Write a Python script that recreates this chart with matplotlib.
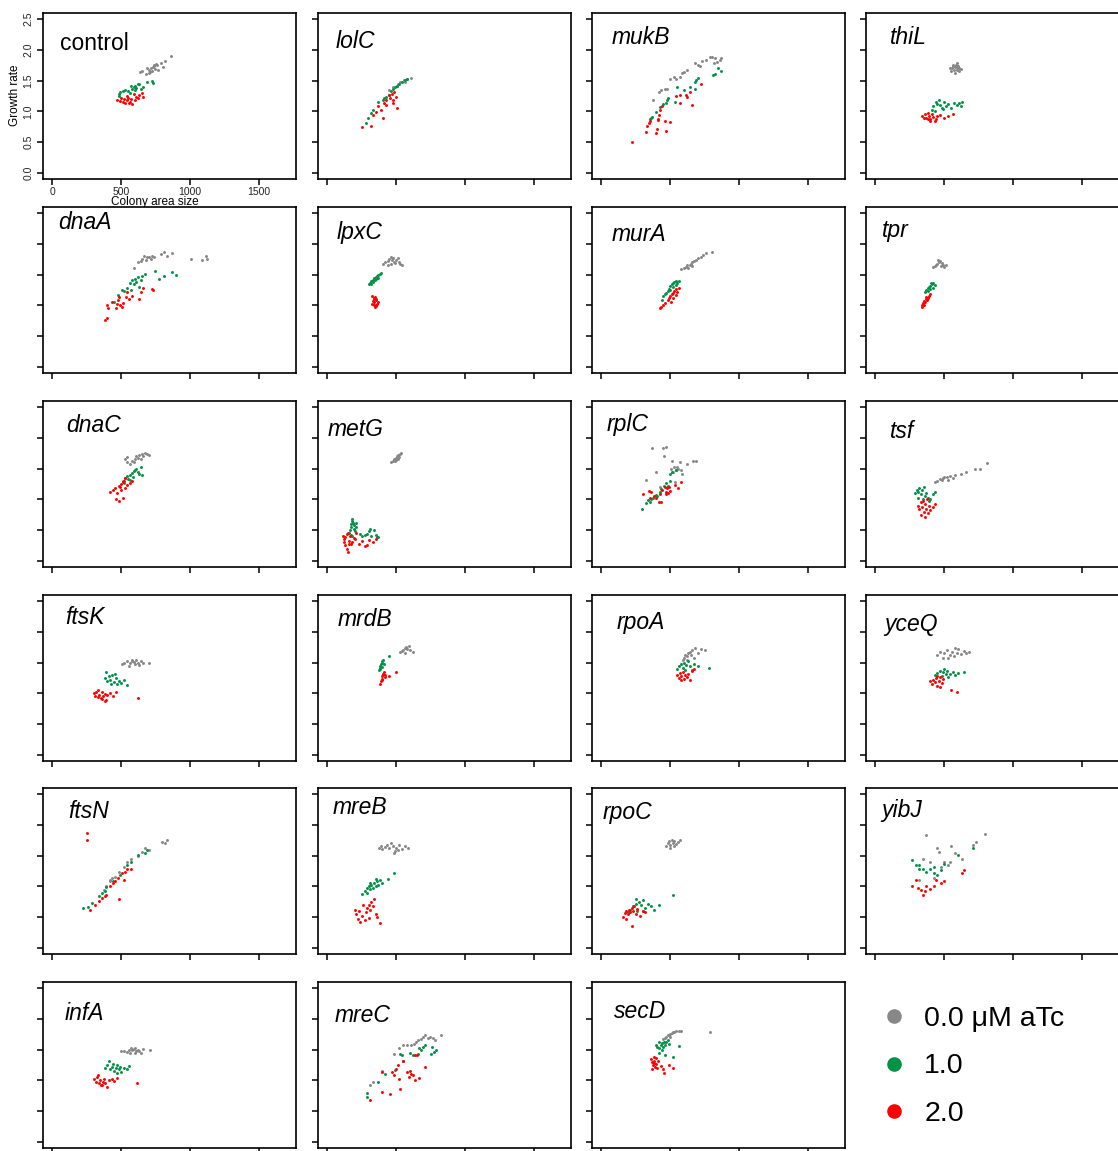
import matplotlib
matplotlib.use("Agg")
import matplotlib.pyplot as plt
from matplotlib.lines import Line2D

plt.rcParams["font.family"] = ["Liberation Sans", "DejaVu Sans"]

# Panel order (row by row)
genes = ["control", "lolC", "mukB", "thiL",
         "dnaA", "lpxC", "murA", "tpr",
         "dnaC", "metG", "rplC", "tsf",
         "ftsK", "mrdB", "rpoA", "yceQ",
         "ftsN", "mreB", "rpoC", "yibJ",
         "infA", "mreC", "secD"]

doses = ["0.0 \u03bcM aTc", "1.0", "2.0"]
dose_colors = ["#878787", "#009245", "#FF0000"]

x_ticks = [0, 500, 1000, 1500]
y_ticks = [0.0, 0.5, 1.0, 1.5, 2.0, 2.5]

# (colony area size, growth rate) per colony, for each strain and aTc dose
control_atc0 = [(633, 1.64), (650, 1.66), (680, 1.60), (700, 1.68), (715, 1.70), (730, 1.72), (740, 1.73),
                (745, 1.69), (760, 1.75), (770, 1.68), (790, 1.78), (800, 1.72), (820, 1.82), (860, 1.90),
                (720, 1.66), (700, 1.62), (690, 1.71), (755, 1.77), (735, 1.76), (710, 1.64)]
control_atc1 = [(480, 1.28), (490, 1.32), (510, 1.33), (530, 1.34), (560, 1.30), (580, 1.36), (590, 1.40),
                (600, 1.42), (610, 1.38), (620, 1.44), (640, 1.37), (660, 1.40), (690, 1.47), (720, 1.49),
                (730, 1.46), (600, 1.35), (570, 1.41), (630, 1.45), (480, 1.25), (550, 1.33)]
control_atc2 = [(470, 1.18), (490, 1.17), (510, 1.15), (520, 1.20), (530, 1.13), (540, 1.18), (550, 1.22),
                (560, 1.16), (570, 1.20), (580, 1.12), (600, 1.19), (610, 1.24), (630, 1.27), (650, 1.30),
                (660, 1.24), (540, 1.25), (555, 1.14), (500, 1.21), (590, 1.28), (620, 1.22)]

lolC_atc0 = [(447, 1.35), (477, 1.39), (504, 1.42), (530, 1.47), (553, 1.51), (580, 1.53), (606, 1.55),
             (561, 1.48), (515, 1.44)]
lolC_atc1 = [(277, 0.81), (295, 0.89), (333, 1.02), (371, 1.16), (402, 1.19), (428, 1.23), (447, 1.26),
             (477, 1.37), (504, 1.41), (523, 1.45), (542, 1.48), (561, 1.51), (580, 1.53), (492, 1.39),
             (409, 1.21), (318, 0.97), (462, 1.33)]
lolC_atc2 = [(250, 0.74), (314, 0.77), (333, 0.94), (371, 1.08), (402, 0.89), (409, 1.13), (428, 1.18),
             (447, 1.26), (466, 1.29), (485, 1.32), (496, 1.24), (504, 1.05), (477, 1.13), (455, 1.21),
             (390, 1.02), (428, 1.10), (352, 0.99), (473, 1.18)]

mukB_atc0 = [(375, 1.18), (419, 1.32), (436, 1.34), (460, 1.36), (477, 1.37), (501, 1.52), (527, 1.56),
             (544, 1.53), (569, 1.56), (588, 1.63), (597, 1.64), (622, 1.67), (680, 1.78), (701, 1.75),
             (714, 1.74), (733, 1.82), (762, 1.83), (786, 1.88), (806, 1.89), (823, 1.86), (842, 1.80),
             (859, 1.84), (871, 1.86), (815, 1.78)]
mukB_atc1 = [(351, 0.87), (363, 0.90), (394, 0.99), (423, 1.07), (448, 1.12), (467, 1.14), (484, 1.21),
             (532, 1.15), (549, 1.40), (598, 1.34), (646, 1.39), (677, 1.36), (689, 1.51), (701, 1.54),
             (677, 1.48), (811, 1.59), (823, 1.60), (847, 1.71), (871, 1.65), (477, 1.19), (370, 0.91)]
mukB_atc2 = [(225, 0.50), (322, 0.67), (334, 0.76), (346, 0.81), (356, 0.85), (394, 0.65), (404, 0.72),
             (414, 0.88), (419, 0.94), (428, 1.03), (438, 1.08), (467, 0.68), (462, 0.85), (496, 0.83),
             (540, 1.25), (569, 1.13), (573, 1.27), (612, 1.26), (622, 1.24), (641, 1.32), (660, 1.11),
             (721, 1.44), (411, 0.86)]

thiL_atc0 = [(540, 1.70), (550, 1.66), (560, 1.73), (570, 1.68), (575, 1.72), (585, 1.75), (590, 1.67),
             (595, 1.70), (600, 1.74), (610, 1.71), (620, 1.69), (580, 1.63), (565, 1.76), (555, 1.71),
             (605, 1.65), (590, 1.78)]
thiL_atc1 = [(410, 1.02), (420, 1.08), (440, 1.15), (450, 1.12), (470, 1.10), (480, 1.05), (500, 1.16),
             (510, 1.08), (530, 1.12), (550, 1.06), (570, 1.13), (590, 1.10), (610, 1.14), (630, 1.16),
             (620, 1.08), (460, 1.18), (430, 1.00), (490, 1.04)]
thiL_atc2 = [(340, 0.92), (350, 0.89), (360, 0.95), (370, 0.90), (380, 0.87), (390, 0.93), (400, 0.88),
             (410, 0.96), (420, 0.91), (430, 0.85), (450, 0.92), (470, 0.94), (500, 0.90), (530, 0.93),
             (560, 0.96), (380, 0.97), (400, 0.84), (440, 0.88)]

dnaA_atc0 = [(593, 1.61), (624, 1.70), (641, 1.72), (653, 1.75), (668, 1.81), (678, 1.73), (702, 1.78),
             (714, 1.76), (726, 1.81), (738, 1.78), (786, 1.84), (810, 1.86), (835, 1.81), (866, 1.85),
             (1004, 1.75), (1084, 1.74), (1113, 1.80), (1120, 1.76), (690, 1.79)]
dnaA_atc1 = [(448, 1.05), (477, 1.17), (503, 1.25), (520, 1.24), (544, 1.29), (561, 1.36), (581, 1.41),
             (600, 1.43), (610, 1.38), (624, 1.46), (641, 1.42), (653, 1.47), (673, 1.51), (745, 1.56),
             (774, 1.43), (808, 1.47), (866, 1.55), (900, 1.50), (593, 1.34), (629, 1.30), (569, 1.25)]
dnaA_atc2 = [(380, 0.77), (399, 0.79), (395, 1.00), (406, 0.95), (431, 1.06), (465, 0.95), (472, 1.03),
             (479, 1.08), (484, 1.14), (489, 1.00), (508, 0.97), (532, 1.14), (544, 1.22), (556, 1.11),
             (576, 1.15), (629, 1.11), (641, 1.22), (658, 1.28), (721, 1.27), (731, 1.25), (513, 1.04)]

lpxC_atc0 = [(402, 1.67), (420, 1.70), (440, 1.72), (450, 1.76), (460, 1.78), (470, 1.74), (480, 1.71),
             (490, 1.69), (500, 1.73), (510, 1.77), (520, 1.70), (530, 1.68), (545, 1.66), (460, 1.68),
             (475, 1.77), (440, 1.66)]
lpxC_atc1 = [(303, 1.34), (310, 1.37), (320, 1.40), (330, 1.42), (340, 1.44), (350, 1.46), (360, 1.48),
             (370, 1.50), (380, 1.51), (392, 1.52), (330, 1.38), (345, 1.41), (355, 1.43), (315, 1.35),
             (365, 1.45)]
lpxC_atc2 = [(325, 1.15), (335, 1.12), (345, 1.14), (355, 1.10), (330, 1.07), (340, 1.05), (350, 1.08),
             (360, 1.03), (335, 1.00), (345, 0.98), (355, 1.01), (365, 1.06), (325, 1.02), (340, 1.10),
             (350, 0.99)]

murA_atc0 = [(580, 1.59), (600, 1.61), (615, 1.63), (625, 1.66), (640, 1.65), (650, 1.68), (660, 1.70),
             (670, 1.72), (690, 1.74), (700, 1.77), (720, 1.79), (740, 1.82), (760, 1.85), (800, 1.87),
             (630, 1.60), (660, 1.64)]
murA_atc1 = [(440, 1.08), (450, 1.15), (470, 1.20), (480, 1.23), (490, 1.27), (500, 1.31), (510, 1.34),
             (520, 1.37), (530, 1.38), (540, 1.40), (550, 1.36), (560, 1.39), (520, 1.30), (500, 1.25),
             (540, 1.33), (465, 1.18)]
murA_atc2 = [(425, 0.95), (430, 0.98), (450, 1.00), (460, 1.04), (480, 1.08), (490, 1.12), (500, 1.15),
             (510, 1.18), (520, 1.20), (530, 1.23), (540, 1.26), (550, 1.22), (560, 1.28), (520, 1.12),
             (505, 1.05), (540, 1.17)]

tpr_atc0 = [(415, 1.62), (430, 1.64), (440, 1.66), (450, 1.68), (460, 1.70), (470, 1.72), (480, 1.69),
            (490, 1.66), (500, 1.63), (515, 1.65), (455, 1.73), (475, 1.64)]
tpr_atc1 = [(360, 1.22), (370, 1.25), (380, 1.28), (390, 1.30), (400, 1.32), (410, 1.35), (420, 1.36),
            (430, 1.33), (395, 1.26), (415, 1.29), (405, 1.37), (385, 1.24)]
tpr_atc2 = [(335, 0.98), (340, 1.01), (345, 1.04), (355, 1.07), (360, 1.05), (370, 1.10), (380, 1.12),
            (390, 1.15), (400, 1.18), (350, 1.00), (375, 1.08), (365, 1.13)]

dnaC_atc0 = [(526, 1.66), (540, 1.60), (560, 1.58), (580, 1.63), (600, 1.65), (610, 1.70), (620, 1.68),
             (630, 1.72), (640, 1.66), (650, 1.74), (660, 1.71), (670, 1.75), (690, 1.74), (700, 1.72),
             (545, 1.69), (590, 1.60)]
dnaC_atc1 = [(509, 1.30), (520, 1.27), (530, 1.35), (540, 1.38), (550, 1.33), (560, 1.40), (575, 1.43),
             (590, 1.46), (600, 1.48), (610, 1.50), (620, 1.44), (630, 1.42), (640, 1.52), (650, 1.40),
             (585, 1.37), (565, 1.31)]
dnaC_atc2 = [(421, 1.12), (440, 1.15), (455, 1.18), (470, 1.10), (480, 1.22), (490, 1.20), (500, 1.25),
             (510, 1.28), (520, 1.30), (530, 1.35), (540, 1.23), (560, 1.26), (575, 1.30), (465, 1.00),
             (485, 0.97), (515, 1.03), (500, 1.15), (530, 1.18)]

metG_atc0 = [(465, 1.61), (475, 1.63), (485, 1.66), (495, 1.68), (505, 1.70), (515, 1.72), (525, 1.73),
             (535, 1.75), (490, 1.62), (510, 1.66), (520, 1.69), (500, 1.64)]
metG_atc1 = [(155, 0.45), (165, 0.50), (170, 0.55), (175, 0.60), (178, 0.65), (180, 0.68), (185, 0.62),
             (190, 0.58), (195, 0.52), (200, 0.48), (210, 0.55), (170, 0.42), (180, 0.40), (205, 0.62),
             (250, 0.40), (270, 0.42), (290, 0.44), (300, 0.48), (320, 0.41), (340, 0.50), (350, 0.42),
             (360, 0.39), (370, 0.38), (310, 0.52), (240, 0.44)]
metG_atc2 = [(115, 0.40), (120, 0.30), (125, 0.25), (130, 0.38), (140, 0.43), (150, 0.45), (155, 0.33),
             (160, 0.28), (170, 0.27), (180, 0.30), (190, 0.37), (200, 0.35), (210, 0.45), (150, 0.15),
             (140, 0.20), (230, 0.28), (250, 0.32), (270, 0.24), (290, 0.25), (300, 0.34), (330, 0.30),
             (350, 0.35), (120, 0.35), (165, 0.40)]

rplC_atc0 = [(370, 1.83), (448, 1.83), (467, 1.85), (452, 1.71), (399, 1.45), (322, 1.31), (515, 1.63),
             (569, 1.61), (622, 1.58), (665, 1.63), (685, 1.63), (508, 1.49), (525, 1.52), (544, 1.48),
             (557, 1.50), (576, 1.47), (583, 1.42), (532, 1.29), (484, 1.20), (423, 1.20), (520, 1.44),
             (552, 1.53)]
rplC_atc1 = [(298, 0.84), (327, 0.94), (339, 0.99), (363, 1.01), (375, 1.03), (399, 1.07), (423, 1.12),
             (436, 1.17), (452, 1.22), (467, 1.26), (484, 1.22), (501, 1.41), (510, 1.45), (544, 1.47),
             (496, 1.30), (404, 1.05), (351, 0.96)]
rplC_atc2 = [(302, 1.08), (344, 1.13), (363, 1.12), (380, 1.06), (394, 1.03), (416, 0.96), (436, 0.95),
             (423, 1.09), (443, 1.15), (460, 1.20), (467, 1.12), (484, 1.10), (491, 1.20), (537, 1.23),
             (557, 1.18), (576, 1.29), (472, 1.09), (356, 1.03), (477, 1.19), (496, 1.13)]

tsf_atc0 = [(430, 1.28), (450, 1.30), (470, 1.33), (490, 1.35), (500, 1.37), (520, 1.36), (540, 1.38),
            (560, 1.34), (580, 1.40), (620, 1.42), (660, 1.45), (720, 1.50), (760, 1.49), (810, 1.59),
            (480, 1.31), (530, 1.32)]
tsf_atc1 = [(290, 1.10), (300, 1.15), (310, 1.12), (320, 1.18), (330, 1.08), (340, 1.15), (350, 1.20),
            (360, 1.05), (370, 1.10), (380, 1.02), (400, 1.00), (420, 1.08), (430, 1.12), (345, 1.00),
            (310, 1.03), (390, 0.98)]
tsf_atc2 = [(310, 0.90), (320, 0.85), (330, 0.95), (340, 0.88), (350, 0.80), (360, 0.92), (370, 0.85),
            (380, 0.78), (390, 0.90), (400, 0.82), (420, 0.87), (430, 0.93), (330, 0.75), (360, 0.72),
            (345, 0.98), (375, 1.00)]

ftsK_atc0 = [(505, 1.48), (520, 1.50), (540, 1.52), (560, 1.49), (575, 1.53), (590, 1.51), (600, 1.47),
             (610, 1.54), (620, 1.50), (640, 1.52), (660, 1.49), (700, 1.50), (555, 1.45), (630, 1.46),
             (580, 1.55)]
ftsK_atc1 = [(380, 1.25), (390, 1.35), (400, 1.20), (410, 1.28), (420, 1.22), (430, 1.30), (445, 1.18),
             (460, 1.25), (470, 1.15), (480, 1.20), (500, 1.17), (520, 1.22), (540, 1.14), (455, 1.32),
             (425, 1.16)]
ftsK_atc2 = [(300, 1.00), (310, 0.96), (320, 1.02), (330, 0.94), (340, 0.98), (350, 0.92), (360, 1.03),
             (370, 0.95), (380, 0.99), (390, 0.90), (400, 0.97), (420, 1.01), (440, 0.95), (460, 1.02),
             (380, 0.88), (360, 0.91), (620, 0.93), (330, 1.05)]

mrdB_atc0 = [(530, 1.67), (540, 1.69), (550, 1.71), (560, 1.73), (570, 1.75), (580, 1.72), (590, 1.77),
             (600, 1.70), (625, 1.68), (565, 1.66)]
mrdB_atc1 = [(375, 1.38), (380, 1.42), (385, 1.45), (390, 1.48), (395, 1.50), (400, 1.52), (405, 1.55),
             (410, 1.47), (395, 1.43), (385, 1.40), (448, 1.60)]
mrdB_atc2 = [(385, 1.16), (390, 1.20), (395, 1.24), (400, 1.28), (405, 1.32), (410, 1.35), (400, 1.22),
             (420, 1.30), (450, 1.29), (500, 1.34), (415, 1.26)]

rpoA_atc0 = [(590, 1.55), (600, 1.58), (610, 1.62), (620, 1.60), (630, 1.65), (640, 1.68), (650, 1.63),
             (660, 1.70), (680, 1.73), (700, 1.66), (720, 1.72), (750, 1.70), (625, 1.55), (670, 1.58)]
rpoA_atc1 = [(550, 1.40), (565, 1.44), (580, 1.48), (590, 1.42), (600, 1.50), (615, 1.46), (630, 1.52),
             (640, 1.45), (655, 1.38), (670, 1.48), (700, 1.45), (780, 1.42), (610, 1.38)]
rpoA_atc2 = [(550, 1.30), (560, 1.25), (570, 1.33), (580, 1.28), (590, 1.35), (600, 1.24), (610, 1.30),
             (620, 1.27), (630, 1.32), (640, 1.22), (655, 1.36), (675, 1.40), (575, 1.22)]

yceQ_atc0 = [(450, 1.62), (470, 1.68), (490, 1.58), (500, 1.65), (520, 1.70), (540, 1.63), (555, 1.67),
             (570, 1.60), (590, 1.66), (600, 1.72), (620, 1.64), (640, 1.69), (660, 1.66), (680, 1.67),
             (530, 1.58), (580, 1.74)]
yceQ_atc1 = [(430, 1.30), (450, 1.33), (470, 1.36), (490, 1.34), (500, 1.40), (510, 1.32), (520, 1.37),
             (540, 1.31), (560, 1.35), (580, 1.30), (600, 1.33), (640, 1.34), (480, 1.28), (530, 1.26)]
yceQ_atc2 = [(400, 1.20), (410, 1.15), (420, 1.22), (430, 1.18), (440, 1.25), (450, 1.12), (460, 1.20),
             (470, 1.27), (480, 1.17), (490, 1.23), (470, 1.10), (550, 1.05), (595, 1.03), (445, 1.28)]

ftsN_atc0 = [(374, 0.94), (389, 1.00), (415, 1.10), (431, 1.13), (451, 1.16), (483, 1.24), (519, 1.31),
             (545, 1.40), (571, 1.44), (623, 1.49), (649, 1.56), (675, 1.62), (701, 1.59), (794, 1.72),
             (830, 1.76), (815, 1.70), (415, 1.08)]
ftsN_atc1 = [(223, 0.65), (260, 0.67), (285, 0.73), (337, 0.84), (363, 0.89), (379, 0.93), (441, 1.08),
             (493, 1.19), (545, 1.35), (571, 1.40), (623, 1.51), (675, 1.54), (690, 1.59), (389, 0.99)]
ftsN_atc2 = [(249, 1.86), (249, 1.76), (275, 0.61), (311, 0.70), (337, 0.77), (363, 0.81), (389, 0.86),
             (415, 1.00), (441, 1.05), (457, 1.09), (477, 1.13), (503, 1.21), (529, 1.24), (545, 1.28),
             (571, 1.29), (483, 0.80), (519, 1.10), (379, 0.84)]

mreB_atc0 = [(375, 1.62), (390, 1.66), (400, 1.60), (415, 1.64), (430, 1.68), (445, 1.62), (460, 1.70),
             (475, 1.65), (490, 1.58), (500, 1.63), (520, 1.67), (540, 1.61), (560, 1.65), (585, 1.63),
             (480, 1.54), (510, 1.59)]
mreB_atc1 = [(250, 0.88), (270, 0.92), (290, 0.98), (300, 1.00), (310, 0.95), (320, 1.02), (330, 0.97),
             (340, 1.05), (350, 1.00), (360, 1.08), (370, 1.03), (380, 1.10), (400, 1.06), (440, 1.12),
             (480, 1.22), (310, 1.06), (350, 1.12), (290, 0.90)]
mreB_atc2 = [(200, 0.62), (210, 0.55), (220, 0.47), (230, 0.60), (250, 0.52), (270, 0.45), (280, 0.58),
             (290, 0.65), (300, 0.70), (310, 0.62), (320, 0.75), (330, 0.68), (340, 0.80), (350, 0.55),
             (360, 0.50), (380, 0.40), (300, 0.48), (260, 0.70), (240, 0.42)]

rpoC_atc0 = [(470, 1.66), (480, 1.70), (490, 1.73), (500, 1.68), (510, 1.75), (520, 1.71), (530, 1.74),
             (540, 1.69), (555, 1.72), (570, 1.76), (500, 1.62), (525, 1.65)]
rpoC_atc1 = [(190, 0.58), (210, 0.62), (230, 0.68), (250, 0.72), (270, 0.75), (290, 0.70), (300, 0.78),
             (320, 0.65), (340, 0.72), (360, 0.68), (380, 0.62), (420, 0.70), (520, 0.86), (260, 0.60),
             (300, 0.60), (250, 0.80)]
rpoC_atc2 = [(160, 0.50), (170, 0.56), (180, 0.60), (190, 0.55), (200, 0.62), (210, 0.58), (220, 0.65),
             (230, 0.60), (240, 0.68), (250, 0.55), (260, 0.63), (280, 0.52), (300, 0.60), (220, 0.35),
             (180, 0.47), (320, 0.58)]

yibJ_atc0 = [(371, 1.83), (794, 1.85), (732, 1.72), (706, 1.68), (552, 1.65), (448, 1.62), (464, 1.56),
             (577, 1.55), (345, 1.44), (397, 1.40), (500, 1.40), (526, 1.35), (474, 1.32), (320, 1.10),
             (423, 1.13), (541, 1.40), (629, 1.45)]
yibJ_atc1 = [(268, 1.43), (294, 1.35), (320, 1.28), (345, 1.29), (371, 1.24), (397, 1.28), (423, 1.21),
             (448, 1.19), (474, 1.27), (500, 1.37), (603, 1.51), (706, 1.62), (320, 1.34), (423, 1.31)]
yibJ_atc2 = [(268, 1.00), (294, 1.10), (309, 0.97), (330, 0.94), (361, 0.92), (397, 0.96), (423, 1.01),
             (438, 1.10), (474, 1.05), (500, 1.08), (629, 1.21), (644, 1.27), (371, 1.01), (345, 0.86)]

infA_atc0 = [(500, 1.47), (520, 1.48), (540, 1.46), (555, 1.50), (570, 1.52), (580, 1.49), (590, 1.51),
             (600, 1.53), (610, 1.48), (620, 1.50), (630, 1.47), (640, 1.45), (660, 1.51), (705, 1.49),
             (560, 1.44), (600, 1.45)]
infA_atc1 = [(385, 1.20), (400, 1.25), (410, 1.32), (420, 1.18), (430, 1.22), (440, 1.27), (450, 1.15),
             (460, 1.20), (470, 1.25), (480, 1.18), (490, 1.22), (500, 1.14), (520, 1.20), (540, 1.19),
             (555, 1.24), (470, 1.12)]
infA_atc2 = [(305, 1.02), (315, 0.98), (325, 1.05), (335, 0.95), (345, 1.00), (355, 0.93), (365, 0.98),
             (375, 1.02), (385, 0.96), (395, 0.90), (410, 1.00), (430, 1.03), (450, 0.99), (470, 1.04),
             (330, 1.08), (360, 0.92), (615, 0.95)]

mreC_atc0 = [(330, 0.97), (312, 0.93), (395, 1.15), (486, 1.43), (520, 1.52), (551, 1.58), (577, 1.57),
             (608, 1.58), (629, 1.59), (655, 1.65), (676, 1.68), (694, 1.71), (707, 1.73), (728, 1.69),
             (746, 1.70), (764, 1.69), (780, 1.65), (824, 1.73), (642, 1.62)]
mreC_atc1 = [(291, 0.79), (291, 0.73), (369, 0.97), (421, 1.11), (494, 1.17), (525, 1.43), (538, 1.41),
             (551, 1.32), (603, 1.45), (624, 1.42), (655, 1.43), (668, 1.52), (694, 1.54), (707, 1.57),
             (759, 1.54), (772, 1.46), (785, 1.49), (754, 1.43), (681, 1.49)]
mreC_atc2 = [(312, 0.68), (400, 0.81), (452, 0.78), (468, 1.14), (499, 1.19), (512, 1.25), (486, 1.08),
             (520, 1.03), (530, 0.86), (546, 1.32), (577, 1.14), (590, 1.05), (603, 1.16), (608, 1.11),
             (624, 1.08), (634, 1.41), (650, 1.41), (634, 1.00), (668, 1.04), (707, 1.22), (395, 1.14)]

secD_atc0 = [(450, 1.67), (460, 1.69), (470, 1.71), (480, 1.73), (490, 1.74), (500, 1.76), (510, 1.77),
             (520, 1.78), (530, 1.79), (545, 1.80), (560, 1.81), (575, 1.80), (500, 1.70), (785, 1.79)]
secD_atc1 = [(395, 1.58), (405, 1.55), (415, 1.62), (420, 1.52), (430, 1.58), (440, 1.60), (450, 1.55),
             (455, 1.63), (465, 1.58), (470, 1.62), (480, 1.65), (490, 1.59), (420, 1.45), (460, 1.42),
             (520, 1.38), (560, 1.56), (440, 1.50)]
secD_atc2 = [(360, 1.35), (370, 1.30), (375, 1.25), (380, 1.32), (385, 1.28), (390, 1.22), (395, 1.36),
             (400, 1.27), (405, 1.20), (410, 1.31), (430, 1.23), (450, 1.18), (455, 1.12), (490, 1.25),
             (520, 1.20), (385, 1.38), (365, 1.18)]

panels = {g: (globals()[g + "_atc0"], globals()[g + "_atc1"], globals()[g + "_atc2"]) for g in genes}

# ---- layout (pixels on a 1118 x 1151 canvas) ----
W, H = 1118, 1151
col_left = [43, 318, 592, 866]
row_top = [13, 207, 401, 595, 788, 982]
box_w, box_h = 253, 166

# hand-placed panel titles: (left inset, vertical centre below box top), pixels
title_pos = {
    "control": (17, 29), "lolC": (18, 27), "mukB": (20, 24), "thiL": (24, 24),
    "dnaA": (15, 15), "lpxC": (19, 25), "murA": (20, 27), "tpr": (16, 23),
    "dnaC": (23, 23), "metG": (10, 28), "rplC": (15, 22), "tsf": (24, 29),
    "ftsK": (22, 22), "mrdB": (20, 23), "rpoA": (25, 26), "yceQ": (18, 28),
    "ftsN": (25, 22), "mreB": (15, 19), "rpoC": (11, 23), "yibJ": (15, 22),
    "infA": (22, 31), "mreC": (17, 32), "secD": (22, 28),
}

fig = plt.figure(figsize=(W / 100, H / 100), dpi=100)


def add_box(r, c):
    return fig.add_axes([col_left[c] / W, 1 - (row_top[r] + box_h) / H, box_w / W, box_h / H])


for i, gene in enumerate(genes):
    r, c = divmod(i, 4)
    ax = add_box(r, c)
    for pts, col in zip(panels[gene], dose_colors):
        xs = [p[0] for p in pts]
        ys = [p[1] for p in pts]
        ax.scatter(xs, ys, s=4.5, c=col, marker="o", linewidths=0, zorder=3)
    ax.set_xlim(-68, 1768)
    ax.set_ylim(-0.1, 2.6)
    ax.set_xticks(x_ticks)
    ax.set_yticks(y_ticks)
    for sp in ax.spines.values():
        sp.set_linewidth(1.2)
    ax.tick_params(direction="out", length=4.5, width=1.1, colors="black")
    style = "normal" if gene == "control" else "italic"
    dx, dy = title_pos[gene]
    ax.text(dx / box_w, 1 - (dy + 7.5) / box_h, gene, transform=ax.transAxes, fontsize=16.5,
            style=style, ha="left", va="baseline")
    if i == 0:
        ax.set_xticklabels([str(t) for t in x_ticks], fontsize=7.5, color="#222222")
        ax.set_yticklabels([f"{t:.1f}" for t in y_ticks], fontsize=7.5, rotation=90,
                           va="center", color="#222222")
        ax.tick_params(axis="x", pad=1.2)
        ax.tick_params(axis="y", pad=2.2)
        ax.text(0.443, -0.139, "Colony area size", transform=ax.transAxes,
                fontsize=8.5, ha="center", va="center")
        ax.text(-0.111, 0.506, "Growth rate", transform=ax.transAxes,
                fontsize=8.5, ha="center", va="center", rotation=90)
    else:
        ax.set_xticklabels([])
        ax.set_yticklabels([])

# legend in the empty slot
lax = add_box(5, 3)
lax.axis("off")
handles = [Line2D([], [], linestyle="none", marker="o", markersize=10.5,
                  markerfacecolor=col, markeredgewidth=0) for col in dose_colors]
lax.legend(handles, doses, loc="upper left", bbox_to_anchor=(0.0, 0.925),
           frameon=False, fontsize=20.5, handletextpad=0.45, labelspacing=0.76,
           borderaxespad=0.0, handlelength=1.2)

fig.savefig("out.png", dpi=100)
